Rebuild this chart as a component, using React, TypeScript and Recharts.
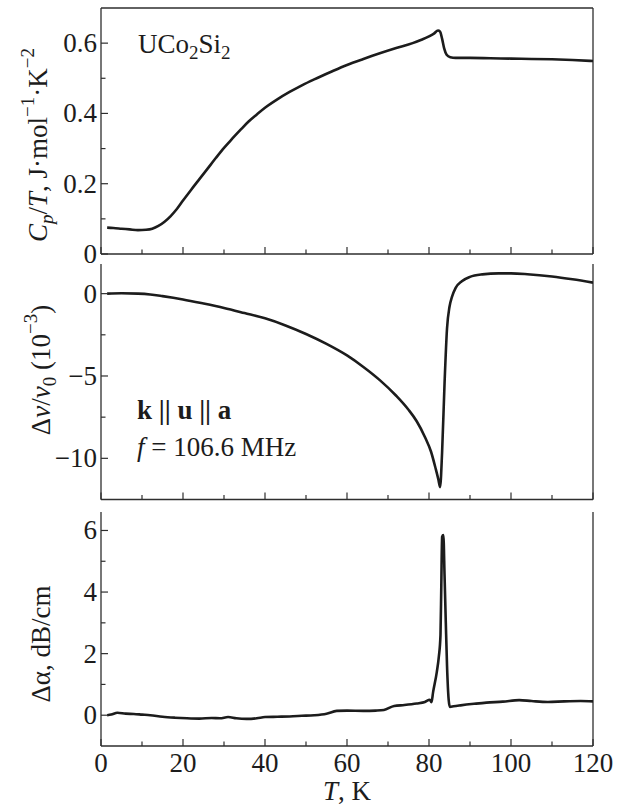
import React from 'react';
import { LineChart, Line, XAxis, YAxis, ReferenceLine } from 'recharts';

const W = 628;
const H = 806;
const FONT = 'Liberation Serif';
const INK = '#1c1c1c';
const AXIS = '#2e2e2e';
const FS = 27;
const FS_SMALL = 19;
const X_AXIS_H = 30;

// Temperature axis, K
const tempTicks = [0, 10, 20, 30, 40, 50, 60, 70, 80, 90, 100, 110, 120];
const tempLabels = [0, 20, 40, 60, 80, 100, 120];

// Specific heat C_p/T, J·mol^-1·K^-2
const cpTemp = [1.5, 3, 5, 7, 9, 11, 12.5, 14, 15.5, 17, 18.5, 20, 22, 24, 26, 28, 30, 32, 34, 36, 38, 40, 43, 46, 49, 52, 56, 60, 64, 68, 72, 76, 78, 80, 81.2, 82.2, 82.7, 83.2, 83.7, 84.3, 85.2, 86.5, 90, 95, 100, 105, 110, 115, 120];
const cpValue = [0.075, 0.074, 0.072, 0.070, 0.068, 0.069, 0.072, 0.080, 0.092, 0.108, 0.128, 0.152, 0.183, 0.213, 0.243, 0.273, 0.302, 0.328, 0.353, 0.377, 0.397, 0.416, 0.440, 0.461, 0.480, 0.497, 0.518, 0.538, 0.555, 0.571, 0.586, 0.600, 0.609, 0.619, 0.627, 0.636, 0.633, 0.612, 0.585, 0.567, 0.560, 0.558, 0.558, 0.557, 0.556, 0.555, 0.554, 0.552, 0.549];
const cpTicks = [0, 0.1, 0.2, 0.3, 0.4, 0.5, 0.6];
const cpMajor = [0, 0.2, 0.4, 0.6];

// Relative sound velocity change, 10^-3
const dvTemp = [1.5, 5, 9, 12, 15, 20, 25, 30, 35, 40, 45, 50, 55, 60, 64, 68, 72, 75, 77, 79, 80.5, 81.6, 82.3, 82.7, 83.2, 83.8, 84.4, 85, 85.6, 86.5, 88, 90, 93, 97, 100, 104, 110, 115, 120];
const dvValue = [0, 0.02, 0, -0.05, -0.15, -0.35, -0.6, -0.87, -1.18, -1.5, -1.93, -2.45, -3.05, -3.75, -4.45, -5.25, -6.2, -7.05, -7.75, -8.7, -9.6, -10.6, -11.3, -11.75, -9.6, -5.4, -2.1, -0.8, -0.2, 0.35, 0.75, 1.02, 1.17, 1.23, 1.23, 1.18, 1.04, 0.87, 0.67];
const dvTicks = [-10, -7.5, -5, -2.5, 0];
const dvMajor = [-10, -5, 0];

// Sound attenuation change, dB/cm
const daTemp = [1.5, 2.5, 4, 6, 8, 10, 12, 15, 18, 21, 24, 27, 29, 31, 33, 35.5, 38, 40, 43, 46, 49, 52, 55, 57.5, 60, 64, 67, 69, 71.5, 74, 77, 79, 80.2, 80.6, 81, 81.9, 82.4, 82.8, 83.0, 83.2, 83.5, 83.8, 84.1, 84.4, 84.8, 85.1, 86, 87.7, 91, 94, 98, 102, 105, 109, 113, 117, 120];
const daValue = [0, 0.02, 0.08, 0.05, 0.04, 0.02, 0.0, -0.05, -0.08, -0.1, -0.11, -0.09, -0.1, -0.06, -0.1, -0.12, -0.1, -0.06, -0.05, -0.04, -0.02, 0.0, 0.05, 0.14, 0.15, 0.14, 0.15, 0.17, 0.3, 0.33, 0.38, 0.43, 0.5, 0.42, 0.75, 1.4, 1.9, 2.6, 4.2, 5.8, 5.85, 4.5, 3.0, 1.6, 0.5, 0.27, 0.29, 0.32, 0.37, 0.41, 0.44, 0.49, 0.46, 0.43, 0.45, 0.46, 0.45];
const daTicks = [0, 1, 2, 3, 4, 5, 6];
const daMajor = [0, 2, 4, 6];

const rows = (ts: number[], vs: number[]) => ts.map((t, i) => ({ t, v: vs[i] }));

const fmtNum = (v: number) => (v < 0 ? '\u2212' + Math.abs(v) : String(v));

const textStyle: React.CSSProperties = { fontFamily: FONT };

function XTick(props: any) {
  const { x, y, payload, showLabels } = props;
  const v = payload.value;
  const major = tempLabels.includes(v);
  return (
    <g>
      <line x1={x} y1={y} x2={x} y2={y - (major ? 7 : 4.5)} stroke={AXIS} strokeWidth={1.2} />
      {showLabels && major ? (
        <text x={x} y={y + 26} textAnchor="middle" style={textStyle} fontSize={FS} fill={INK}>
          {v}
        </text>
      ) : null}
    </g>
  );
}

function YTick(props: any) {
  const { x, y, payload, majors } = props;
  const v = payload.value;
  const major = majors.includes(v);
  return (
    <g>
      <line x1={x} y1={y} x2={x + (major ? 7 : 4.5)} y2={y} stroke={AXIS} strokeWidth={1.2} />
      {major ? (
        <text x={x - 4} y={y + 9} textAnchor="end" style={textStyle} fontSize={FS} fill={INK}>
          {fmtNum(v)}
        </text>
      ) : null}
    </g>
  );
}

const CpTitle = () => (
  <text transform="translate(47,145) rotate(-90)" textAnchor="middle" style={textStyle} fontSize={FS} fill={INK}>
    <tspan fontStyle="italic">C</tspan>
    <tspan fontStyle="italic" fontSize={FS_SMALL} dy={6}>p</tspan>
    <tspan dy={-6}>/</tspan>
    <tspan fontStyle="italic">T</tspan>
    <tspan>, J·mol</tspan>
    <tspan fontSize={FS_SMALL} dy={-13}>{'\u2212'}1</tspan>
    <tspan dy={13}>·K</tspan>
    <tspan fontSize={FS_SMALL} dy={-13}>{'\u2212'}2</tspan>
  </text>
);

const DvTitle = () => (
  <text transform="translate(50,370) rotate(-90)" textAnchor="middle" style={textStyle} fontSize={FS} fill={INK}>
    <tspan>Δ</tspan>
    <tspan fontStyle="italic">v</tspan>
    <tspan>/</tspan>
    <tspan fontStyle="italic">v</tspan>
    <tspan fontSize={FS_SMALL} dy={6}>0</tspan>
    <tspan dy={-6}> (10</tspan>
    <tspan fontSize={FS_SMALL} dy={-13}>{'\u2212'}3</tspan>
    <tspan dy={13}>)</tspan>
  </text>
);

const DaTitle = () => (
  <text transform="translate(50,644) rotate(-90)" textAnchor="middle" style={textStyle} fontSize={FS} fill={INK}>
    Δα, dB/cm
  </text>
);

type Panel = {
  key: string;
  data: { t: number; v: number }[];
  domain: [number, number];
  ticks: number[];
  majors: number[];
  top: number;
  bottom: number;
  frameTop: boolean;
  xLabels: boolean;
  title: React.ReactElement;
};

const panels: Panel[] = [
  { key: 'cp', data: rows(cpTemp, cpValue), domain: [0, 0.7], ticks: cpTicks, majors: cpMajor, top: 8, bottom: 254, frameTop: true, xLabels: false, title: <CpTitle /> },
  { key: 'dv', data: rows(dvTemp, dvValue), domain: [-12.5, 1.8], ticks: dvTicks, majors: dvMajor, top: 264, bottom: 499.5, frameTop: false, xLabels: false, title: <DvTitle /> },
  { key: 'da', data: rows(daTemp, daValue), domain: [-1, 6.6], ticks: daTicks, majors: daMajor, top: 512, bottom: 746, frameTop: false, xLabels: true, title: <DaTitle /> },
];

export default function App() {
  return (
    <div style={{ position: 'absolute', left: 0, top: 0, width: W, height: H, background: '#fff', overflow: 'hidden', fontFamily: FONT }}>
      {panels.map((p) => (
        <div key={p.key} style={{ position: 'absolute', left: 0, top: 0 }}>
          <LineChart
            width={W}
            height={H}
            data={p.data}
            margin={{ top: p.top, right: 35, left: 0, bottom: H - p.bottom - X_AXIS_H }}
          >
            <XAxis
              dataKey="t"
              type="number"
              domain={[0, 120]}
              ticks={tempTicks}
              interval={0}
              allowDataOverflow
              height={X_AXIS_H}
              tickSize={0}
              tickMargin={0}
              tickLine={false}
              axisLine={{ stroke: AXIS, strokeWidth: 1.3 }}
              tick={(tp: any) => <XTick {...tp} showLabels={p.xLabels} />}
            />
            <YAxis
              type="number"
              domain={p.domain}
              ticks={p.ticks}
              interval={0}
              allowDataOverflow
              width={101}
              tickSize={0}
              tickMargin={0}
              tickLine={false}
              axisLine={{ stroke: AXIS, strokeWidth: 1.3 }}
              tick={(tp: any) => <YTick {...tp} majors={p.majors} />}
              label={p.title}
            />
            <ReferenceLine x={120} stroke={AXIS} strokeWidth={1.3} />
            {p.frameTop ? <ReferenceLine y={p.domain[1]} stroke={AXIS} strokeWidth={1.3} /> : null}
            <Line
              type="monotone"
              dataKey="v"
              stroke={INK}
              strokeWidth={2.6}
              dot={false}
              isAnimationActive={false}
            />
          </LineChart>
        </div>
      ))}
      <svg width={W} height={H} style={{ position: 'absolute', left: 0, top: 0, pointerEvents: 'none' }}>
        <text x={138} y={53} style={textStyle} fontSize={FS} fill={INK}>
          <tspan>UCo</tspan>
          <tspan fontSize={FS_SMALL} dy={6}>2</tspan>
          <tspan dy={-6}>Si</tspan>
          <tspan fontSize={FS_SMALL} dy={6}>2</tspan>
        </text>
        <text x={137} y={419} style={textStyle} fontSize={FS} fontWeight="bold" fill={INK}>
          k || u || a
        </text>
        <text x={137} y={456} style={textStyle} fontSize={FS} fill={INK}>
          <tspan fontStyle="italic">f</tspan>
          <tspan> = 106.6 MHz</tspan>
        </text>
        <text x={347} y={800} textAnchor="middle" style={textStyle} fontSize={FS} fill={INK}>
          <tspan fontStyle="italic">T</tspan>
          <tspan>, K</tspan>
        </text>
      </svg>
    </div>
  );
}
